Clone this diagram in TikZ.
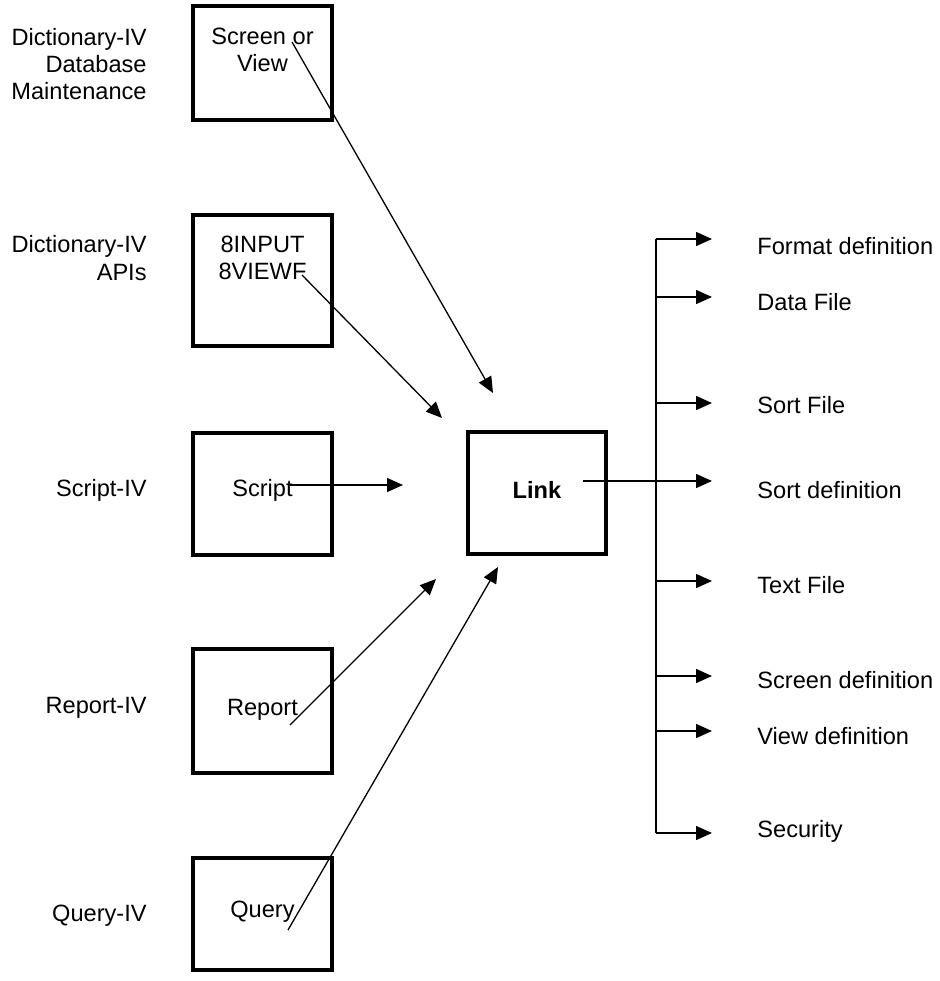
\documentclass[tikz,border=0pt]{standalone}
\usepackage{fontspec}
\setmainfont{Liberation Sans}
\usetikzlibrary{arrows.meta,positioning}
\tikzset{>={Triangle[length=8pt,width=7pt]}}
\tikzset{
	srcbox/.style={draw,line width=2pt,minimum width=69.5pt,inner sep=0pt},
	srclabel/.style={align=right,anchor=east,inner sep=0pt},
	target/.style={anchor=west,inner sep=0pt},
	feed/.style={->,line width=0.65pt},
	branch/.style={->,line width=0.75pt}
}
\begin{document}
\begin{tikzpicture}[x=0.5pt,y=-0.5pt,font=\fontsize{11.8}{13.6}\selectfont]
				\useasboundingbox (0,0) rectangle (940,981);
				\node[srcbox,minimum height=57pt] (scr) at (262.5,63) {};
				\node[srcbox,minimum height=65.5pt] (api) at (262.5,280.5) {};
				\node[srcbox,minimum height=61pt] (scp) at (262.5,494) {};
				\node[srcbox,minimum height=62pt] (rep) at (262.5,711) {};
				\node[srcbox,minimum height=56pt] (qry) at (262.5,914) {};
				\node[srcbox,minimum width=69pt,minimum height=61pt] (link) at (537,493) {};
				\node[align=center] (scrT) at (262.5,50) {Screen or\\View};
				\node[align=center] (apiT) at (262.5,258) {8INPUT\\8VIEWF};
				\node (scpT) at (262.5,490) {Script};
				\node (repT) at (262.5,710) {Report};
				\node (qryT) at (262.5,912) {Query};
				\node (linkT) at (537,490) {\textbf{Link}};
				\node[srclabel] (dbm) at (147,64) {Dictionary-IV\\Database\\Maintenance};
				\node[srclabel] (apis) at (147,258) {Dictionary-IV\\APIs};
				\node[srclabel] (scpL) at (147,490) {Script-IV};
				\node[srclabel] (repL) at (147,708) {Report-IV};
				\node[srclabel] (qryL) at (147,916) {Query-IV};
				\coordinate (s1) at (292,42);
				\coordinate (e1) at (493,393);
				\coordinate (s2) at (302,275);
				\coordinate (e2) at (442,418);
				\coordinate (s3) at (290,485);
				\coordinate (e3) at (403,485);
				\coordinate (s4) at (290,725);
				\coordinate (e4) at (436,579);
				\coordinate (s5) at (288,930);
				\coordinate (e5) at (498,567);
				\draw[feed] (s1)--(e1);
				\draw[feed] (s2)--(e2);
				\draw[feed] (s3)--(e3);
				\draw[feed] (s4)--(e4);
				\draw[feed] (s5)--(e5);
				\coordinate (bt) at (656,239);
				\coordinate (bb) at (656,833);
				\draw[line width=1pt] (bt)--(bb);
				\foreach \nm/\y/\ty/\txt in {fmt/239/246/Format definition,dat/297/302/Data File,srf/403/405/Sort File,srd/481/490/Sort definition,txt/581/585/Text File,scd/676/680/Screen definition,vwd/731/736/View definition,sec/833/831/Security}{
					\coordinate (\nm b) at (656,\y);
					\coordinate (\nm e) at (712,\y);
					\node[target] (\nm) at (757,\ty) {\txt};
					\draw[branch] (\nm b)--(\nm e);
				}
				\coordinate (lk) at (583,481);
				\draw[line width=0.75pt] (lk)--(srdb);
				\end{tikzpicture}
\end{document}
